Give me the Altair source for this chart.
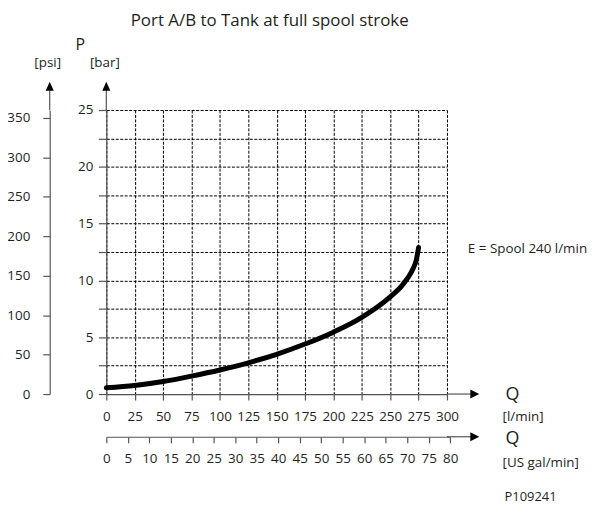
import altair as alt
import pandas as pd

# ---- data ----
flow_lpm = [0, 25, 50, 75, 100, 125, 150, 175, 200, 225, 250, 260, 265, 270, 273, 275]
pressure_bar = [0.55, 0.75, 1.1, 1.58, 2.12, 2.75, 3.5, 4.4, 5.45, 6.75, 8.55, 9.5, 10.15, 11.0, 11.8, 12.9]

lpm_ticks = [0, 25, 50, 75, 100, 125, 150, 175, 200, 225, 250, 275, 300]
gal_ticks = [0, 5, 10, 15, 20, 25, 30, 35, 40, 45, 50, 55, 60, 65, 70, 75, 80]
bar_ticks = [0, 2.5, 5, 7.5, 10, 12.5, 15, 17.5, 20, 22.5, 25]
psi_ticks = [0, 50, 100, 150, 200, 250, 300, 350]

LPM_MAX = 300
BAR_MAX = 25
PSI_MAX = 360
L_PER_GAL = 3.785

FONT = "Open Sans"
TXT = "#231f20"
AX = "#555555"
W = 343
H = 286
FS = 13.5

curve_df = pd.DataFrame({"q": flow_lpm, "p": pressure_bar})
psi_df = pd.DataFrame({"psi": psi_ticks})
gal_df = pd.DataFrame({"gal": gal_ticks})
one = pd.DataFrame({"d": [0]})

axis_common = dict(
    title=None, domainColor=AX, domainWidth=1.2, tickColor=AX, tickWidth=1.2,
    labelFont=FONT, labelFontSize=FS, labelColor=TXT, labelFlush=False, labelOverlap=False,
)

curve = alt.Chart(curve_df).mark_line(
    color="#000000", strokeWidth=5, interpolate="monotone", strokeCap="round"
).encode(
    x=alt.X("q:Q", scale=alt.Scale(domain=[0, LPM_MAX], nice=False),
            axis=alt.Axis(values=lpm_ticks, grid=True, gridColor="#000000", gridDash=[3, 1.5],
                          gridWidth=1, tickSize=6, labelPadding=10, **axis_common)),
    y=alt.Y("p:Q", scale=alt.Scale(domain=[0, BAR_MAX], nice=False),
            axis=alt.Axis(values=bar_ticks, grid=True, gridColor="#000000", gridDash=[3, 1.5],
                          gridWidth=1, tickSize=8, labelPadding=5.5,
                          labelExpr="datum.value % 5 == 0 ? datum.label : ''", **axis_common)),
)

psi_layer = alt.Chart(psi_df).mark_point(opacity=0).encode(
    y=alt.Y("psi:Q", scale=alt.Scale(domain=[0, PSI_MAX], nice=False),
            axis=alt.Axis(orient="left", offset=57, values=psi_ticks, grid=False,
                          tickSize=7, labelPadding=13, **axis_common)),
)

gal_layer = alt.Chart(gal_df).mark_point(opacity=0).encode(
    x=alt.X("gal:Q", scale=alt.Scale(domain=[0, 80], range=[0, W * 80 * L_PER_GAL / LPM_MAX], nice=False),
            axis=alt.Axis(orient="bottom", offset=43, values=gal_ticks, grid=False,
                          tickSize=6, labelPadding=9, **axis_common)),
)


def rule(x, x2, y, y2):
    return alt.Chart(one).mark_rule(color=AX, strokeWidth=1.2).encode(
        x=alt.value(x), x2=alt.value(x2), y=alt.value(y), y2=alt.value(y2))


UP = "M0,-1L-0.9,1L0.9,1Z"
RIGHT = "M1,0L-1,-1L-1,1Z"


def arrow(shape, x, y):
    return alt.Chart(one).mark_point(shape=shape, filled=True, size=81, color="#000000",
                                     opacity=1, strokeWidth=0).encode(x=alt.value(x), y=alt.value(y))


def text(t, x, y, size=FS, align="left", baseline="middle"):
    return alt.Chart(one).mark_text(text=t, font=FONT, fontSize=size, color=TXT,
                                    align=align, baseline=baseline).encode(
        x=alt.value(x), y=alt.value(y))


layers = [
    curve, psi_layer, gal_layer,
    rule(0, 0, 0, -20), rule(-57, -57, 0, -20),
    rule(W, W + 25, H, H), rule(W, W + 25, H + 43, H + 43),
    arrow(UP, 0, -24), arrow(UP, -57, -24),
    arrow(RIGHT, W + 28, H), arrow(RIGHT, W + 28, H + 43),
    text("Port A/B to Tank at full spool stroke", 164.5, -85, size=17, align="center", baseline="alphabetic"),
    text("P", -31, -60, size=16, baseline="alphabetic"),
    text("[psi]", -59, -47, align="center"),
    text("[bar]", -1.5, -47, align="center"),
    text("E = Spool 240 l/min", 364, 139.5, size=13.5),
    text("Q", 409, 287, size=18, align="center"),
    text("[l/min]", 399, 309),
    text("Q", 409, 331, size=18, align="center"),
    text("[US gal/min]", 399, 355),
    text("P109241", 401, 390, size=13),
]

chart = alt.layer(*layers).resolve_scale(x="independent", y="independent").properties(
    width=W, height=H,
    autosize=alt.AutoSizeParams(type="none"),
    padding={"left": 99, "top": 101, "right": 141, "bottom": 110},
).configure_view(stroke=None)

chart.save("out.html", embed_options={"renderer": "svg", "actions": False})
